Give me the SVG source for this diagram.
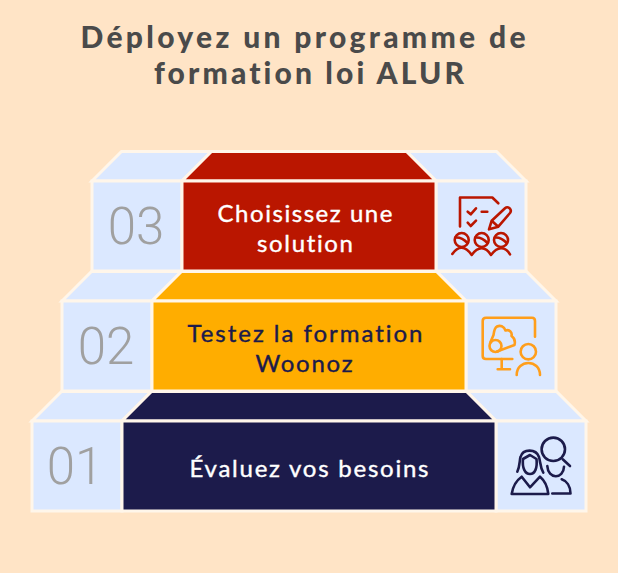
<svg xmlns="http://www.w3.org/2000/svg" width="618" height="573" viewBox="0 0 618 573">
<defs><style>
text{font-variant-ligatures:none}
.s{fill:#dbe8ff;stroke:#fff6ea;stroke-width:3;stroke-linejoin:miter}
.c{stroke:#fff6ea;stroke-width:3}
.t{font-family:"Lato","Noto Sans",sans-serif;font-weight:900;fill:#4a4a4a;font-size:30px;text-anchor:middle}
.l{font-family:"Lato","Noto Sans",sans-serif;font-weight:400;font-size:24px;text-anchor:middle;stroke-width:.4}
.w{fill:#fff;stroke:#fff}
.d{fill:#1c1b4b;stroke:#1c1b4b}
.n{font-family:"Roboto",sans-serif;font-weight:300;font-size:51px;fill:#a0a0a0;text-anchor:middle}
.i{fill:none;stroke-width:2.600;stroke-linecap:round;stroke-linejoin:round}
</style></defs>
<rect width="618" height="573" fill="#ffe4c6"/>
<g id="title">
<text class="t" x="303" y="48" textLength="445" lengthAdjust="spacing">Déployez un programme de</text>
<text class="t" x="309" y="84" textLength="310" lengthAdjust="spacing">formation loi ALUR</text>
</g>
<g id="step-3">
<path class="s" d="M92 181L121.500 151.500H211.500L182 181Z"/><path class="s" d="M436 181L406.500 151.500H496.500L526 181Z"/>
<path class="c" fill="#ba1600" d="M182 181L211.500 151.500H406.500L436 181Z"/>
<rect class="s" x="92" y="181" width="90" height="90"/><rect class="s" x="436" y="181" width="90" height="90"/>
<rect class="c" fill="#ba1600" x="182" y="181" width="254" height="90"/>
<text class="n" x="136" y="244">03</text>
<text class="l w" x="305" y="222" textLength="175">Choisissez une</text>
<text class="l w" x="305" y="252" textLength="96">solution</text>
<g class="i" stroke="#ba1600">
<path d="M460 226.500V197.500H492.300L498.300 203.300"/>
<path d="M467.700 211.700L470.700 214.300L476 208.300M467.700 222.700L470.700 226L476 220.700M481.700 211.700H487.300"/>
<path d="M489 229.300L491.700 220.700L505 208.300C508 205.500 512.500 209.500 510 213L498.300 226.700ZM491.700 220.700L498.300 226.700"/>
<circle cx="461.700" cy="240" r="7"/><circle cx="481.700" cy="240" r="7"/><circle cx="501" cy="240" r="7"/>
<path d="M455.500 237.500Q462 237 467.500 243M475.500 237.500Q482 237 487.500 243M495 237.500Q501 237 506.800 243"/>
<path d="M452.300 254C455 250 458 247.700 461.700 247.700C466 247.700 469 251 471.700 255C474.500 251 477.500 248.300 481.700 248.300C485.500 248.300 488.500 251 491 255C494 251 497 248.300 501 248.300C505 248.300 508 251 510 254.300"/>
</g></g>
<g id="step-2">
<path class="s" d="M62 301L91.500 271.500H181.500L152 301Z"/><path class="s" d="M466 301L436.500 271.500H526.500L556 301Z"/>
<path class="c" fill="#ffad00" d="M152 301L181.500 271.500H436.500L466 301Z"/>
<rect class="s" x="62" y="301" width="90" height="90"/><rect class="s" x="466" y="301" width="90" height="90"/>
<rect class="c" fill="#ffad00" x="152" y="301" width="314" height="90"/>
<text class="n" x="106" y="364">02</text>
<text class="l d" x="305" y="342" textLength="235">Testez la formation</text>
<text class="l d" x="304" y="372" textLength="97">Woonoz</text>
<g class="i" stroke="#ff9e1b">
<path d="M512.300 359H486C484 359 482.700 357.700 482.700 356V321C482.700 319 484 317.700 486 317.700H532C534 317.700 535 319 535 321V336.700"/>
<path d="M501.700 359V369.300M497.700 369.300H510"/>
<path d="M497 351.500L514.500 345C515.500 341 514.500 338 511.500 336C512.500 332 509 329 505.500 330.500C504 326 500 325 497 326.500C495 327.500 494 331 493.500 335L490.500 342"/>
<circle cx="495.500" cy="346" r="6"/>
<circle cx="528.300" cy="351.700" r="7.700"/>
<path d="M516.700 375C516.700 359 540 359 540 375"/>
</g></g>
<g id="step-1">
<path class="s" d="M32 421L61.500 391.500H151.500L122 421Z"/><path class="s" d="M496 421L466.500 391.500H556.500L586 421Z"/>
<path class="c" fill="#1c1b4b" d="M122 421L151.500 391.500H466.500L496 421Z"/>
<rect class="s" x="32" y="421" width="90" height="90"/><rect class="s" x="496" y="421" width="90" height="90"/>
<rect class="c" fill="#1c1b4b" x="122" y="421" width="374" height="90"/>
<text class="n" x="75" y="484">01</text>
<text class="l w" x="309" y="477" textLength="239">Évaluez vos besoins</text>
<g class="i" stroke="#1c1b4b">
<circle cx="553.300" cy="449.300" r="11.700"/><path d="M562.700 459.300L570 466"/>
<path d="M547.300 466C548 479.500 563.500 479.500 564 466.700"/>
<path d="M552.300 493.500H570.500C570.500 486 566.500 481 561.700 479.300"/>
<path d="M517.300 471.700C520 466 519.500 460 520.500 457C523 448.500 536 448.500 539 457C540.500 462 540 467 543.300 472.700"/>
<path d="M523 459L530 455L536.500 459C537.500 468 535 474 530 474C525 474 522 468 523 459Z"/>
<path d="M511.700 494C513 485 517 480 521.700 476.700L530 487.300L540 476.700C544 480 547.500 486 548.300 494Z"/>
</g></g>
</svg>
